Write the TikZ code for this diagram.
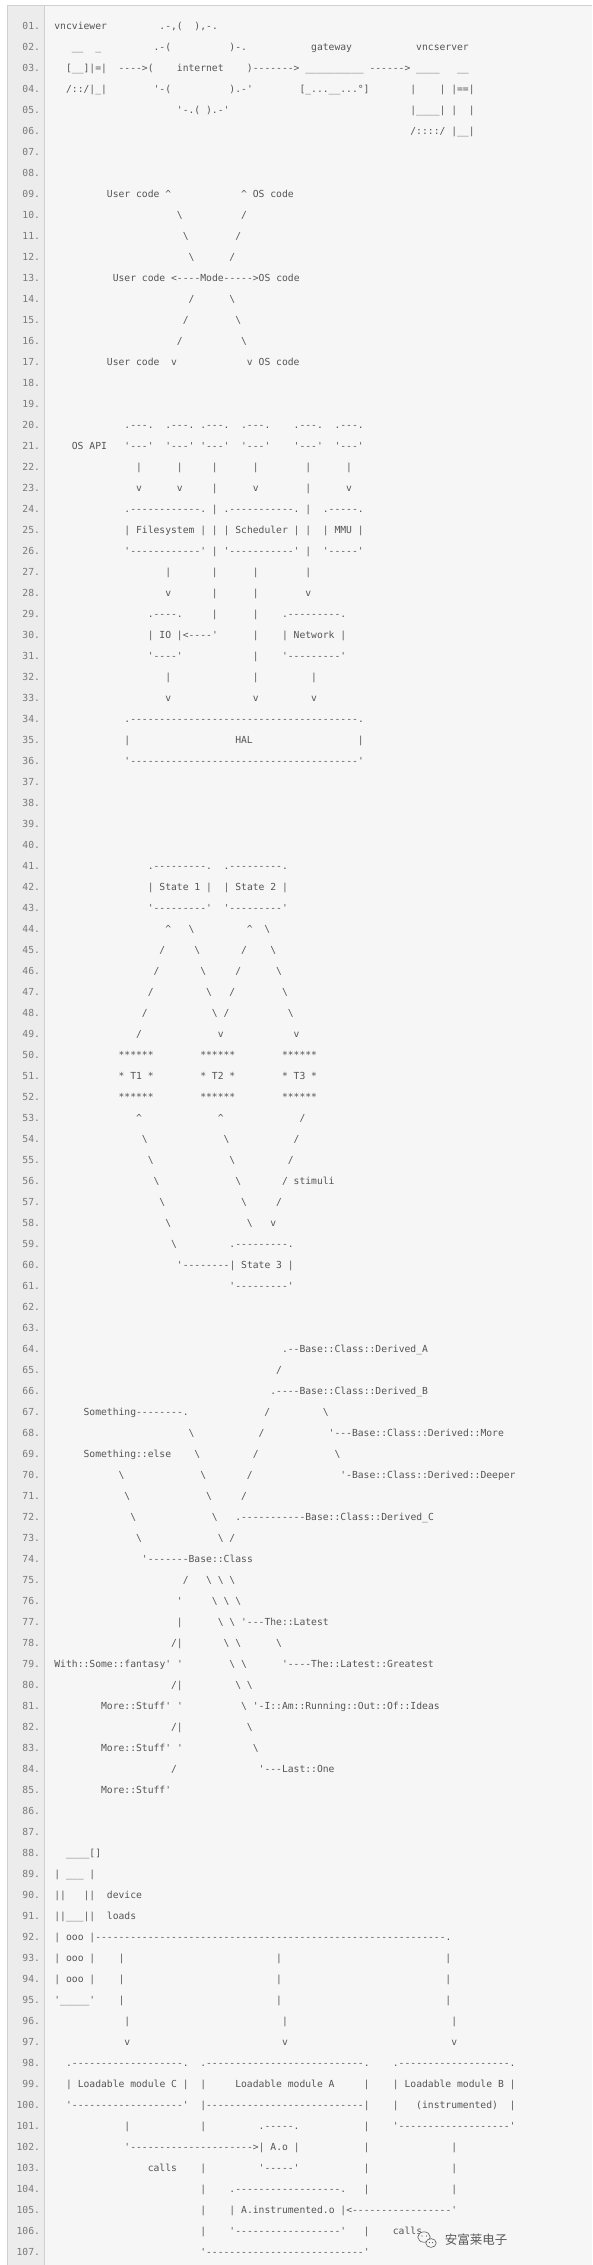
\documentclass[tikz,border=0pt]{standalone}
\usepackage{fontspec}
\setmonofont{DejaVu Sans Mono}
\newfontfamily\cjkfont{Noto Sans CJK SC}
\ExplSyntaxOn
\cs_new:Npn \Rp #1#2 { \prg_replicate:nn {#1} {#2} }
\ExplSyntaxOff
\definecolor{txt}{HTML}{555555}
\definecolor{numc}{HTML}{7A7A7A}
\definecolor{gut}{HTML}{ECECEC}
\definecolor{bgc}{HTML}{F6F6F6}
\definecolor{brd}{HTML}{D0D0D0}
\definecolor{wmc}{HTML}{5A5A5A}
\newcommand\BS{\textbackslash}
\newcommand\CA{\textasciicircum}
\newcommand\Ln[3]{\node[ch] (L#1c#2) at ({54.4+5.836*#2},{-29-21*(#1-1)}) {#3};}
\newcommand\Mn[3]{\foreach \cc in {#2}{\Ln{#1}{\cc}{#3}}}
\begin{document}
\begin{tikzpicture}[x=1pt,y=1pt,
  ch/.style={anchor=base west,inner sep=0pt,outer sep=0pt,text=txt,font=\ttfamily\fontsize{9.7}{11}\selectfont},
  num/.style={anchor=base east,inner sep=0pt,outer sep=0pt,text=numc,font=\ttfamily\fontsize{9.7}{11}\selectfont},
  wm/.style={inner sep=0pt,text=wmc,font=\cjkfont\fontsize{12.5}{14}\selectfont},
  wmi/.style={draw=wmc,line width=0.6pt}]
\useasboundingbox (0,0) rectangle (592,-2265);
\fill[white] (0,0) rectangle (592,-2265);
\fill[gut] (7,-5) rectangle (44,-2265);
\fill[bgc] (44,-5) rectangle (592,-2265);
\draw[brd] (7,-2265) -- (7,-5) -- (592,-5);
\draw[brd] (44,-5) -- (44,-2265);
\foreach \i in {1,...,107}{\node[num] (N\i) at (40,{-29-21*(\i-1)}) {\ifnum\i<10 0\fi\i.};}
% 1-6 network
\Ln{1}{0}{vncviewer}\Ln{1}{18}{.-,(~~),-.}
\Ln{2}{3}{\_\_}\Ln{2}{7}{\_}\Ln{2}{17}{.-(}\Ln{2}{30}{)-.}\Ln{2}{44}{gateway}\Ln{2}{62}{vncserver}
\Ln{3}{2}{[\_\_]|=|}\Ln{3}{11}{---->(}\Ln{3}{21}{internet}\Ln{3}{33}{)------->}\Ln{3}{43}{\Rp{10}{\_}}\Ln{3}{54}{------>}\Ln{3}{62}{\_\_\_\_}\Ln{3}{69}{\_\_}
\Ln{4}{2}{/::/|\_|}\Ln{4}{17}{'-(}\Ln{4}{30}{).-'}\Ln{4}{42}{[\_...\_\_...°]}\Ln{4}{61}{|~~~~|~|==|}
\Ln{5}{21}{'-.(~).-'}\Ln{5}{61}{|\_\_\_\_|~|~~|}
\Ln{6}{61}{/::::/~|\_\_|}
% 9-17 mode
\Ln{9}{9}{User~code~\CA}\Ln{9}{32}{\CA~OS~code}
\Ln{10}{21}{\BS}\Ln{10}{32}{/}
\Ln{11}{22}{\BS}\Ln{11}{31}{/}
\Ln{12}{23}{\BS}\Ln{12}{30}{/}
\Ln{13}{10}{User~code~<----Mode----->OS~code}
\Ln{14}{23}{/}\Ln{14}{30}{\BS}
\Ln{15}{22}{/}\Ln{15}{31}{\BS}
\Ln{16}{21}{/}\Ln{16}{32}{\BS}
\Ln{17}{9}{User~code}\Ln{17}{20}{v}\Ln{17}{33}{v~OS~code}
% 20-36 OS
\Mn{20}{12,19,25,32,41,48}{.---.}
\Ln{21}{3}{OS~API}\Mn{21}{12,19,25,32,41,48}{'---'}
\Mn{22}{14,21,27,34,43,50}{|}
\Mn{23}{14,21,34,50}{v}\Mn{23}{27,43}{|}
\Ln{24}{12}{.\Rp{12}{-}.}\Ln{24}{27}{|}\Ln{24}{29}{.\Rp{11}{-}.}\Ln{24}{43}{|}\Ln{24}{46}{.-----.}
\Ln{25}{12}{|~Filesystem~|}\Ln{25}{27}{|}\Ln{25}{29}{|~Scheduler~|}\Ln{25}{43}{|}\Ln{25}{46}{|~MMU~|}
\Ln{26}{12}{'\Rp{12}{-}'}\Ln{26}{27}{|}\Ln{26}{29}{'\Rp{11}{-}'}\Ln{26}{43}{|}\Ln{26}{46}{'-----'}
\Mn{27}{19,27,34,43}{|}
\Mn{28}{19,43}{v}\Mn{28}{27,34}{|}
\Ln{29}{16}{.----.}\Mn{29}{27,34}{|}\Ln{29}{39}{.\Rp{9}{-}.}
\Ln{30}{16}{|~IO~|<----'}\Ln{30}{34}{|}\Ln{30}{39}{|~Network~|}
\Ln{31}{16}{'----'}\Ln{31}{34}{|}\Ln{31}{39}{'\Rp{9}{-}'}
\Mn{32}{19,34,44}{|}
\Mn{33}{19,34,44}{v}
\Ln{34}{12}{.\Rp{39}{-}.}
\Ln{35}{12}{|}\Ln{35}{31}{HAL}\Ln{35}{52}{|}
\Ln{36}{12}{'\Rp{39}{-}'}
% 41-61 states
\Ln{41}{16}{.\Rp{9}{-}.}\Ln{41}{29}{.\Rp{9}{-}.}
\Ln{42}{16}{|~State~1~|}\Ln{42}{29}{|~State~2~|}
\Ln{43}{16}{'\Rp{9}{-}'}\Ln{43}{29}{'\Rp{9}{-}'}
\Mn{44}{19,33}{\CA}\Mn{44}{23,36}{\BS}
\Mn{45}{18,32}{/}\Mn{45}{24,37}{\BS}
\Mn{46}{17,31}{/}\Mn{46}{25,38}{\BS}
\Mn{47}{16,30}{/}\Mn{47}{26,39}{\BS}
\Mn{48}{15,29}{/}\Mn{48}{27,40}{\BS}
\Ln{49}{14}{/}\Mn{49}{28,41}{v}
\Mn{50}{11,25,39}{******}
\Ln{51}{11}{*~T1~*}\Ln{51}{25}{*~T2~*}\Ln{51}{39}{*~T3~*}
\Mn{52}{11,25,39}{******}
\Mn{53}{14,28}{\CA}\Ln{53}{42}{/}
\Mn{54}{15,29}{\BS}\Ln{54}{41}{/}
\Mn{55}{16,30}{\BS}\Ln{55}{40}{/}
\Mn{56}{17,31}{\BS}\Ln{56}{39}{/}\Ln{56}{41}{stimuli}
\Mn{57}{18,32}{\BS}\Ln{57}{38}{/}
\Mn{58}{19,33}{\BS}\Ln{58}{37}{v}
\Ln{59}{20}{\BS}\Ln{59}{30}{.\Rp{9}{-}.}
\Ln{60}{21}{'--------|~State~3~|}
\Ln{61}{30}{'\Rp{9}{-}'}
% 64-85 classes
\Ln{64}{39}{.--Base::Class::Derived\_A}
\Ln{65}{38}{/}
\Ln{66}{37}{.----Base::Class::Derived\_B}
\Ln{67}{5}{Something--------.}\Ln{67}{36}{/}\Ln{67}{46}{\BS}
\Ln{68}{23}{\BS}\Ln{68}{35}{/}\Ln{68}{47}{'---Base::Class::Derived::More}
\Ln{69}{5}{Something::else}\Ln{69}{24}{\BS}\Ln{69}{34}{/}\Ln{69}{48}{\BS}
\Ln{70}{11}{\BS}\Ln{70}{25}{\BS}\Ln{70}{33}{/}\Ln{70}{49}{'-Base::Class::Derived::Deeper}
\Ln{71}{12}{\BS}\Ln{71}{26}{\BS}\Ln{71}{32}{/}
\Ln{72}{13}{\BS}\Ln{72}{27}{\BS}\Ln{72}{31}{.\Rp{11}{-}Base::Class::Derived\_C}
\Ln{73}{14}{\BS}\Ln{73}{28}{\BS}\Ln{73}{30}{/}
\Ln{74}{15}{'-------Base::Class}
\Ln{75}{22}{/}\Mn{75}{26,28,30}{\BS}
\Ln{76}{21}{'}\Mn{76}{27,29,31}{\BS}
\Ln{77}{21}{|}\Mn{77}{28,30}{\BS}\Ln{77}{32}{'---The::Latest}
\Ln{78}{20}{/|}\Mn{78}{29,31,38}{\BS}
\Ln{79}{0}{With::Some::fantasy'~'}\Mn{79}{30,32}{\BS}\Ln{79}{39}{'----The::Latest::Greatest}
\Ln{80}{20}{/|}\Mn{80}{31,33}{\BS}
\Ln{81}{8}{More::Stuff'~'}\Ln{81}{32}{\BS}\Ln{81}{34}{'-I::Am::Running::Out::Of::Ideas}
\Ln{82}{20}{/|}\Ln{82}{33}{\BS}
\Ln{83}{8}{More::Stuff'~'}\Ln{83}{34}{\BS}
\Ln{84}{20}{/}\Ln{84}{35}{'---Last::One}
\Ln{85}{8}{More::Stuff'}
% 88-107 modules
\Ln{88}{2}{\_\_\_\_[]}
\Ln{89}{0}{|~\_\_\_~|}
\Ln{90}{0}{||~~~||}\Ln{90}{9}{device}
\Ln{91}{0}{||\_\_\_||}\Ln{91}{9}{loads}
\Ln{92}{0}{|~ooo~|\Rp{60}{-}.}
\Ln{93}{0}{|~ooo~|}\Mn{93}{11,38,67}{|}
\Ln{94}{0}{|~ooo~|}\Mn{94}{11,38,67}{|}
\Ln{95}{0}{'\_\_\_\_\_'}\Mn{95}{11,38,67}{|}
\Mn{96}{12,39,68}{|}
\Mn{97}{12,39,68}{v}
\Ln{98}{2}{.\Rp{19}{-}.}\Ln{98}{25}{.\Rp{27}{-}.}\Ln{98}{58}{.\Rp{19}{-}.}
\Ln{99}{2}{|~Loadable~module~C~|}\Ln{99}{25}{|}\Ln{99}{31}{Loadable~module~A}\Ln{99}{53}{|}\Ln{99}{58}{|~Loadable~module~B~|}
\Ln{100}{2}{'\Rp{19}{-}'}\Ln{100}{25}{|\Rp{27}{-}|}\Ln{100}{58}{|}\Ln{100}{62}{(instrumented)}\Ln{100}{78}{|}
\Ln{101}{12}{|}\Ln{101}{25}{|}\Ln{101}{35}{.-----.}\Ln{101}{53}{|}\Ln{101}{58}{'\Rp{19}{-}'}
\Ln{102}{12}{'\Rp{21}{-}>|~A.o~|}\Ln{102}{53}{|}\Ln{102}{68}{|}
\Ln{103}{16}{calls}\Ln{103}{25}{|}\Ln{103}{35}{'-----'}\Ln{103}{53}{|}\Ln{103}{68}{|}
\Ln{104}{25}{|}\Ln{104}{30}{.\Rp{18}{-}.}\Ln{104}{53}{|}\Ln{104}{68}{|}
\Ln{105}{25}{|}\Ln{105}{30}{|~A.instrumented.o~|<\Rp{17}{-}'}
\Ln{106}{25}{|}\Ln{106}{30}{'\Rp{18}{-}'}\Ln{106}{53}{|}\Ln{106}{58}{calls}
\Ln{107}{25}{'\Rp{27}{-}'}
% watermark
\draw[wmi,fill=bgc] (424,-2237) ellipse (6.2 and 5.2);
\draw[wmi,fill=bgc] (431,-2243) ellipse (5.2 and 4.4);
\fill[wmc] (422,-2236) circle (0.7) (426.5,-2236) circle (0.7) (429.5,-2242.5) circle (0.6) (432.5,-2242.5) circle (0.6);
\node[wm] (wmtext) at (476,-2240) {安富莱电子};
\end{tikzpicture}
\end{document}
